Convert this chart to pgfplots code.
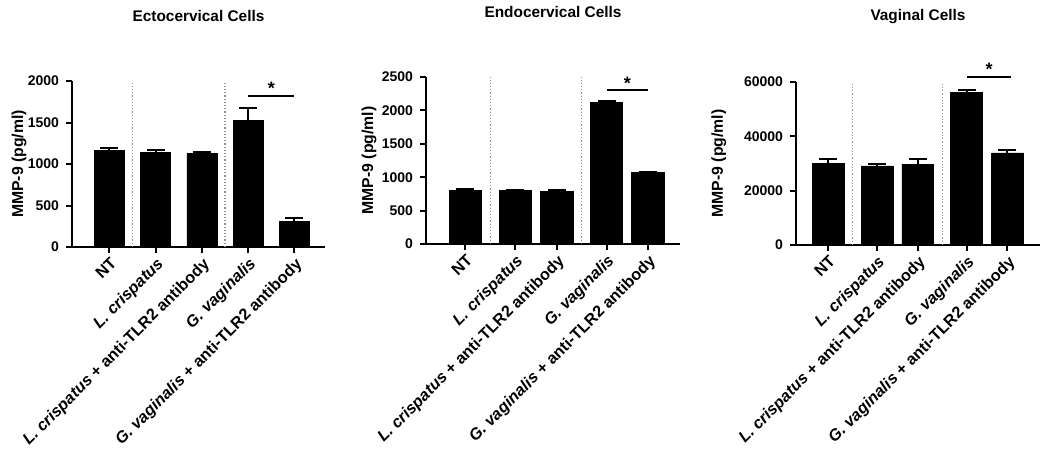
\documentclass[border=0pt]{standalone}
\usepackage{fontspec}
\setmainfont{Liberation Sans}
\usepackage{pgfplots}
\pgfplotsset{compat=1.18}

\newcommand{\lab}{\fontsize{8.1}{9}\selectfont\bfseries}
\newcommand{\num}{\fontsize{7}{8}\selectfont\bfseries}
\pgfplotsset{
  mmp/.style={
    scale only axis,
    axis x line*=bottom, axis y line*=left,
    axis line style={line width=1pt},
    ymin=0, clip=false, ybar,
    tick align=outside, major tick length=3pt,
    tick style={line width=1pt, black},
    xticklabels={NT,\textit{L. crispatus},\textit{L. crispatus} + anti-TLR2 antibody,\textit{G. vaginalis},\textit{G. vaginalis} + anti-TLR2 antibody},
    xticklabel style={rotate=45, anchor=north east, font=\lab, inner sep=1pt},
    yticklabel style={font=\num},
    /pgf/number format/assume math mode=true,
    /pgf/number format/1000 sep={},
    scaled y ticks=false,
    ylabel={MMP-9 (pg/ml)},
    ylabel style={font=\fontsize{7.9}{9}\selectfont\bfseries, anchor=center},
    title style={font=\fontsize{7.7}{9}\selectfont\bfseries, at={(0.5,1)}, anchor=center, yshift=26.5pt},
  },
  bars/.style={fill=black, draw=black,
    error bars/.cd, y dir=plus, y explicit,
    error bar style={line width=1pt, black},
    error mark options={rotate=90, mark size=4.5pt, line width=1pt, black}},
}
\tikzset{
  grpsep/.style={gray!85, densely dotted, line width=0.6pt},
  sigline/.style={line width=1pt},
  sigstar/.style={anchor=south, inner sep=0pt, font=\fontsize{9}{9}\selectfont\bfseries},
}

\begin{document}
\begin{tikzpicture}
\useasboundingbox (0,0) rectangle (525pt,-228.5pt);

% Ectocervical
\begin{axis}[mmp, at={(36pt,-123.5pt)}, anchor=south west,
  width=126.5pt, height=83pt,
  title={Ectocervical Cells},
  ylabel style={at={(axis description cs:-0.209,0.5)}},
  xmin=-0.81, xmax=4.66, xtick={0,1,2,3,4}, bar width=0.65,
  ymax=2000, ytick={0,500,1000,1500,2000}]
\addplot[bars] coordinates {
  (0,1160) +- (0,36)
  (1,1135) +- (0,30)
  (2,1122) +- (0,18)
  (3,1520) +- (0,150)
  (4,310) +- (0,35)
};
\draw[grpsep] (axis cs:0.5,0) -- (axis cs:0.5,2000);
\draw[grpsep] (axis cs:2.5,0) -- (axis cs:2.5,2000);
\draw[sigline] (axis cs:3,1823) -- (axis cs:4,1823) node[midway, sigstar] {*};
\end{axis}

% Endocervical
\begin{axis}[mmp, at={(213pt,-122pt)}, anchor=south west,
  width=127pt, height=83.5pt,
  title={Endocervical Cells},
  ylabel style={at={(axis description cs:-0.224,0.5)}},
  xmin=-0.95, xmax=5.17, xtick={0,1.2,2.2,3.4,4.4}, bar width=0.78,
  ymax=2500, ytick={0,500,1000,1500,2000,2500}]
\addplot[bars] coordinates {
  (0,805) +- (0,12)
  (1.2,797) +- (0,10)
  (2.2,792) +- (0,10)
  (3.4,2120) +- (0,20)
  (4.4,1072) +- (0,12)
};
\draw[grpsep] (axis cs:0.6,0) -- (axis cs:0.6,2500);
\draw[grpsep] (axis cs:2.8,0) -- (axis cs:2.8,2500);
\draw[sigline] (axis cs:3.4,2305) -- (axis cs:4.4,2305) node[midway, sigstar] {*};
\end{axis}

% Vaginal
\begin{axis}[mmp, at={(398pt,-122.5pt)}, anchor=south west,
  width=122pt, height=81.5pt,
  title={Vaginal Cells},
  ylabel style={at={(axis description cs:-0.316,0.5)}},
  xmin=-0.79, xmax=5.2, xtick={0,1.2,2.2,3.4,4.4}, bar width=0.78,
  ymax=60000, ytick={0,20000,40000,60000}]
\addplot[bars] coordinates {
  (0,30100) +- (0,1700)
  (1.2,29100) +- (0,700)
  (2.2,29800) +- (0,1700)
  (3.4,56100) +- (0,1100)
  (4.4,33900) +- (0,1100)
};
\draw[grpsep] (axis cs:0.6,0) -- (axis cs:0.6,60000);
\draw[grpsep] (axis cs:2.8,0) -- (axis cs:2.8,60000);
\draw[sigline] (axis cs:3.4,62000) -- (axis cs:4.5,62000) node[midway, sigstar] {*};
\end{axis}
\end{tikzpicture}
\end{document}
